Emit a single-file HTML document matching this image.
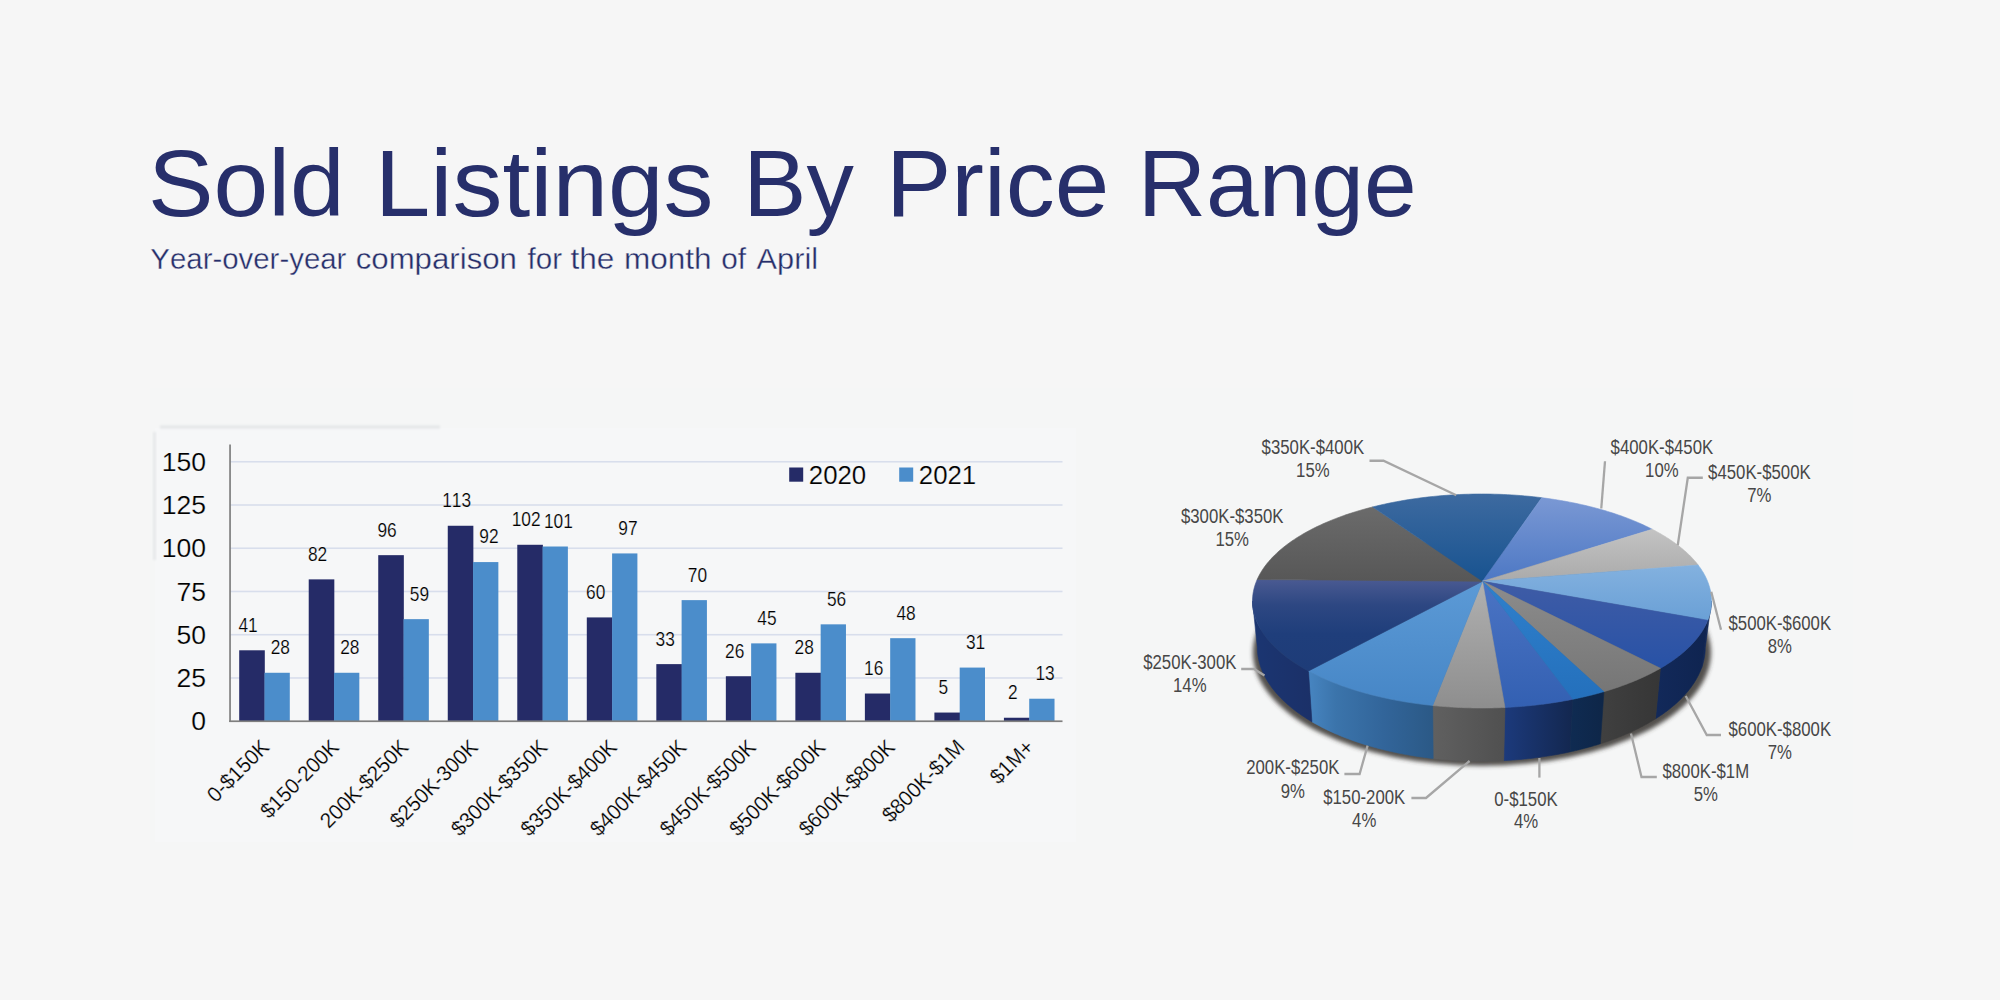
<!DOCTYPE html>
<html lang="en"><head><meta charset="utf-8"><title>Sold Listings By Price Range</title>
<style>
html,body{margin:0;padding:0;background:#f6f6f6;}
body{width:2000px;height:1000px;overflow:hidden;position:relative;font-family:'Liberation Sans', Arial, Helvetica, sans-serif;}
svg{display:block;position:absolute;left:0;top:0;}
text{font-family:'Liberation Sans', Arial, Helvetica, sans-serif;font-kerning:none;}
.thin{stroke:#f5f6f6;stroke-width:0.2px;}
</style></head><body>
<svg width="2000" height="1000" viewBox="0 0 2000 1000">
<defs>
<filter id="blur3" x="-10%" y="-10%" width="120%" height="120%"><feGaussianBlur stdDeviation="2.1"/></filter>
<filter id="blur1" x="-20%" y="-200%" width="140%" height="500%"><feGaussianBlur stdDeviation="1.2"/></filter>
<linearGradient id="s0" gradientUnits="userSpaceOnUse" x1="1503.7" y1="0" x2="1572.9" y2="0"><stop offset="0" stop-color="#1c3a7c"/><stop offset="1" stop-color="#13274f"/></linearGradient>
<linearGradient id="s1" gradientUnits="userSpaceOnUse" x1="1432.7" y1="0" x2="1504.9" y2="0"><stop offset="0" stop-color="#606060"/><stop offset="1" stop-color="#505050"/></linearGradient>
<linearGradient id="s2" gradientUnits="userSpaceOnUse" x1="1308.5" y1="0" x2="1433.2" y2="0"><stop offset="0" stop-color="#4785c1"/><stop offset="0.22" stop-color="#3b74ab"/><stop offset="0.6" stop-color="#32659a"/><stop offset="1" stop-color="#2b5986"/></linearGradient>
<linearGradient id="s3" gradientUnits="userSpaceOnUse" x1="1252.5" y1="0" x2="1311.9" y2="0"><stop offset="0" stop-color="#1b3672"/><stop offset="1" stop-color="#1b3068"/></linearGradient>
<linearGradient id="s8" gradientUnits="userSpaceOnUse" x1="1701.6" y1="0" x2="1711.5" y2="0"><stop offset="0" stop-color="#12295a"/><stop offset="1" stop-color="#11285a"/></linearGradient>
<linearGradient id="s9" gradientUnits="userSpaceOnUse" x1="1655.4" y1="0" x2="1707.7" y2="0"><stop offset="0" stop-color="#12295a"/><stop offset="1" stop-color="#0f2450"/></linearGradient>
<linearGradient id="s10" gradientUnits="userSpaceOnUse" x1="1600.3" y1="0" x2="1660.4" y2="0"><stop offset="0" stop-color="#404040"/><stop offset="1" stop-color="#363636"/></linearGradient>
<linearGradient id="s11" gradientUnits="userSpaceOnUse" x1="1570.1" y1="0" x2="1603.9" y2="0"><stop offset="0" stop-color="#0f2b52"/><stop offset="1" stop-color="#0e2648"/></linearGradient>
<linearGradient id="t0" gradientUnits="userSpaceOnUse" x1="0" y1="581.3" x2="0" y2="707.5"><stop offset="0" stop-color="#4b74c4"/><stop offset="1" stop-color="#3360b2"/></linearGradient>
<linearGradient id="t1" gradientUnits="userSpaceOnUse" x1="0" y1="581.3" x2="0" y2="708.0"><stop offset="0" stop-color="#b0b0b0"/><stop offset="1" stop-color="#8e8e8e"/></linearGradient>
<linearGradient id="t2" gradientUnits="userSpaceOnUse" x1="0" y1="581.3" x2="0" y2="705.5"><stop offset="0" stop-color="#5c9ad6"/><stop offset="1" stop-color="#4686c6"/></linearGradient>
<linearGradient id="t3" gradientUnits="userSpaceOnUse" x1="0" y1="579.5" x2="0" y2="671.0"><stop offset="0" stop-color="#4a5a92"/><stop offset="0.28" stop-color="#2d4782"/><stop offset="0.6" stop-color="#1f3e7b"/><stop offset="1" stop-color="#1e3c78"/></linearGradient>
<linearGradient id="t4" gradientUnits="userSpaceOnUse" x1="0" y1="506.9" x2="0" y2="581.3"><stop offset="0" stop-color="#6b6b6b"/><stop offset="1" stop-color="#575757"/></linearGradient>
<linearGradient id="t5" gradientUnits="userSpaceOnUse" x1="0" y1="494.0" x2="0" y2="581.3"><stop offset="0" stop-color="#3d6aa0"/><stop offset="1" stop-color="#185390"/></linearGradient>
<linearGradient id="t6" gradientUnits="userSpaceOnUse" x1="0" y1="497.7" x2="0" y2="581.3"><stop offset="0" stop-color="#7a98d4"/><stop offset="1" stop-color="#4d78c4"/></linearGradient>
<linearGradient id="t7" gradientUnits="userSpaceOnUse" x1="0" y1="529.3" x2="0" y2="581.3"><stop offset="0" stop-color="#c3c3c3"/><stop offset="1" stop-color="#aaaaaa"/></linearGradient>
<linearGradient id="t8" gradientUnits="userSpaceOnUse" x1="0" y1="565.1" x2="0" y2="620.3"><stop offset="0" stop-color="#83b1df"/><stop offset="1" stop-color="#6aa0d6"/></linearGradient>
<linearGradient id="t9" gradientUnits="userSpaceOnUse" x1="0" y1="581.3" x2="0" y2="668.3"><stop offset="0" stop-color="#3f5ca6"/><stop offset="1" stop-color="#2852a6"/></linearGradient>
<linearGradient id="t10" gradientUnits="userSpaceOnUse" x1="0" y1="581.3" x2="0" y2="691.6"><stop offset="0" stop-color="#8c8c8c"/><stop offset="1" stop-color="#767676"/></linearGradient>
<linearGradient id="t11" gradientUnits="userSpaceOnUse" x1="0" y1="581.3" x2="0" y2="699.2"><stop offset="0" stop-color="#2f80cc"/><stop offset="1" stop-color="#2470bc"/></linearGradient>
</defs>
<text transform="translate(147.93,216) scale(1.0318,1)" font-size="95.3" fill="#272f6b">Sold</text>
<text transform="translate(374.80,216) scale(1.0485,1)" font-size="95.3" fill="#272f6b">Listings</text>
<text transform="translate(743.23,216) scale(0.9941,1)" font-size="95.3" fill="#272f6b">By</text>
<text transform="translate(885.96,216) scale(1.0289,1)" font-size="95.3" fill="#272f6b">Price</text>
<text transform="translate(1137.63,216) scale(0.9934,1)" font-size="95.3" fill="#272f6b">Range</text>
<text transform="translate(150.35,269.4) scale(0.9970,1)" font-size="29.5" fill="#262e6a" stroke="#f6f6f6" stroke-width="0.35">Year-over-year</text>
<text transform="translate(355.67,269.4) scale(1.0582,1)" font-size="29.5" fill="#262e6a" stroke="#f6f6f6" stroke-width="0.35">comparison</text>
<text transform="translate(527.58,269.4) scale(1.0024,1)" font-size="29.5" fill="#262e6a" stroke="#f6f6f6" stroke-width="0.35">for</text>
<text transform="translate(570.52,269.4) scale(1.0700,1)" font-size="29.5" fill="#262e6a" stroke="#f6f6f6" stroke-width="0.35">the</text>
<text transform="translate(623.90,269.4) scale(1.0702,1)" font-size="29.5" fill="#262e6a" stroke="#f6f6f6" stroke-width="0.35">month</text>
<text transform="translate(721.15,269.4) scale(1.0082,1)" font-size="29.5" fill="#262e6a" stroke="#f6f6f6" stroke-width="0.35">of</text>
<text transform="translate(756.54,269.4) scale(1.0424,1)" font-size="29.5" fill="#262e6a" stroke="#f6f6f6" stroke-width="0.35">April</text>
<rect x="150" y="388" width="1703" height="462" fill="#f5f6f6"/>
<rect x="155" y="428" width="921" height="414" fill="#f6f7f8"/>
<rect x="160" y="425.5" width="280" height="3" fill="#e4e6e8" filter="url(#blur1)"/>
<rect x="153" y="432" width="3" height="128" fill="#e6e8ea" filter="url(#blur1)"/>
<rect x="230.0" y="677.16" width="832.5" height="1.6" fill="#d8deec"/>
<rect x="230.0" y="633.92" width="832.5" height="1.6" fill="#d8deec"/>
<rect x="230.0" y="590.68" width="832.5" height="1.6" fill="#d8deec"/>
<rect x="230.0" y="547.44" width="832.5" height="1.6" fill="#d8deec"/>
<rect x="230.0" y="504.20" width="832.5" height="1.6" fill="#d8deec"/>
<rect x="230.0" y="460.96" width="832.5" height="1.6" fill="#d8deec"/>
<rect x="239.20" y="650.29" width="25.60" height="70.91" fill="#252b67"/>
<rect x="264.50" y="672.77" width="25.30" height="48.43" fill="#4b8dcb"/>
<text transform="translate(248.05,631.69) scale(0.875,1)" text-anchor="middle" font-size="19.8" fill="#000" class="thin">41</text>
<text transform="translate(280.35,654.17) scale(0.875,1)" text-anchor="middle" font-size="19.8" fill="#000" class="thin">28</text>
<text transform="translate(270.56,748.50) rotate(-45) scale(0.96,1)" text-anchor="end" font-size="21.4" fill="#000" class="thin">0-$150K</text>
<rect x="308.72" y="579.37" width="25.60" height="141.83" fill="#252b67"/>
<rect x="334.02" y="672.77" width="25.30" height="48.43" fill="#4b8dcb"/>
<text transform="translate(317.57,560.77) scale(0.875,1)" text-anchor="middle" font-size="19.8" fill="#000" class="thin">82</text>
<text transform="translate(349.87,654.17) scale(0.875,1)" text-anchor="middle" font-size="19.8" fill="#000" class="thin">28</text>
<text transform="translate(340.08,748.50) rotate(-45) scale(0.96,1)" text-anchor="end" font-size="21.4" fill="#000" class="thin">$150-200K</text>
<rect x="378.24" y="555.16" width="25.60" height="166.04" fill="#252b67"/>
<rect x="403.54" y="619.15" width="25.30" height="102.05" fill="#4b8dcb"/>
<text transform="translate(387.09,536.56) scale(0.875,1)" text-anchor="middle" font-size="19.8" fill="#000" class="thin">96</text>
<text transform="translate(419.39,600.55) scale(0.875,1)" text-anchor="middle" font-size="19.8" fill="#000" class="thin">59</text>
<text transform="translate(409.60,748.50) rotate(-45) scale(0.96,1)" text-anchor="end" font-size="21.4" fill="#000" class="thin">200K-$250K</text>
<rect x="447.76" y="525.76" width="25.60" height="195.44" fill="#252b67"/>
<rect x="473.06" y="562.08" width="25.30" height="159.12" fill="#4b8dcb"/>
<text transform="translate(456.61,507.16) scale(0.875,1)" text-anchor="middle" font-size="19.8" fill="#000" class="thin">113</text>
<text transform="translate(488.91,543.48) scale(0.875,1)" text-anchor="middle" font-size="19.8" fill="#000" class="thin">92</text>
<text transform="translate(479.12,748.50) rotate(-45) scale(0.96,1)" text-anchor="end" font-size="21.4" fill="#000" class="thin">$250K-300K</text>
<rect x="517.28" y="544.78" width="25.60" height="176.42" fill="#252b67"/>
<rect x="542.58" y="546.51" width="25.30" height="174.69" fill="#4b8dcb"/>
<text transform="translate(526.13,526.18) scale(0.875,1)" text-anchor="middle" font-size="19.8" fill="#000" class="thin">102</text>
<text transform="translate(558.43,527.91) scale(0.875,1)" text-anchor="middle" font-size="19.8" fill="#000" class="thin">101</text>
<text transform="translate(548.64,748.50) rotate(-45) scale(0.96,1)" text-anchor="end" font-size="21.4" fill="#000" class="thin">$300K-$350K</text>
<rect x="586.80" y="617.42" width="25.60" height="103.78" fill="#252b67"/>
<rect x="612.10" y="553.43" width="25.30" height="167.77" fill="#4b8dcb"/>
<text transform="translate(595.65,598.82) scale(0.875,1)" text-anchor="middle" font-size="19.8" fill="#000" class="thin">60</text>
<text transform="translate(627.95,534.83) scale(0.875,1)" text-anchor="middle" font-size="19.8" fill="#000" class="thin">97</text>
<text transform="translate(618.16,748.50) rotate(-45) scale(0.96,1)" text-anchor="end" font-size="21.4" fill="#000" class="thin">$350K-$400K</text>
<rect x="656.32" y="664.12" width="25.60" height="57.08" fill="#252b67"/>
<rect x="681.62" y="600.13" width="25.30" height="121.07" fill="#4b8dcb"/>
<text transform="translate(665.17,645.52) scale(0.875,1)" text-anchor="middle" font-size="19.8" fill="#000" class="thin">33</text>
<text transform="translate(697.47,581.53) scale(0.875,1)" text-anchor="middle" font-size="19.8" fill="#000" class="thin">70</text>
<text transform="translate(687.68,748.50) rotate(-45) scale(0.96,1)" text-anchor="end" font-size="21.4" fill="#000" class="thin">$400K-$450K</text>
<rect x="725.84" y="676.23" width="25.60" height="44.97" fill="#252b67"/>
<rect x="751.14" y="643.37" width="25.30" height="77.83" fill="#4b8dcb"/>
<text transform="translate(734.69,657.63) scale(0.875,1)" text-anchor="middle" font-size="19.8" fill="#000" class="thin">26</text>
<text transform="translate(766.99,624.77) scale(0.875,1)" text-anchor="middle" font-size="19.8" fill="#000" class="thin">45</text>
<text transform="translate(757.20,748.50) rotate(-45) scale(0.96,1)" text-anchor="end" font-size="21.4" fill="#000" class="thin">$450K-$500K</text>
<rect x="795.36" y="672.77" width="25.60" height="48.43" fill="#252b67"/>
<rect x="820.66" y="624.34" width="25.30" height="96.86" fill="#4b8dcb"/>
<text transform="translate(804.21,654.17) scale(0.875,1)" text-anchor="middle" font-size="19.8" fill="#000" class="thin">28</text>
<text transform="translate(836.51,605.74) scale(0.875,1)" text-anchor="middle" font-size="19.8" fill="#000" class="thin">56</text>
<text transform="translate(826.72,748.50) rotate(-45) scale(0.96,1)" text-anchor="end" font-size="21.4" fill="#000" class="thin">$500K-$600K</text>
<rect x="864.88" y="693.53" width="25.60" height="27.67" fill="#252b67"/>
<rect x="890.18" y="638.18" width="25.30" height="83.02" fill="#4b8dcb"/>
<text transform="translate(873.73,674.93) scale(0.875,1)" text-anchor="middle" font-size="19.8" fill="#000" class="thin">16</text>
<text transform="translate(906.03,619.58) scale(0.875,1)" text-anchor="middle" font-size="19.8" fill="#000" class="thin">48</text>
<text transform="translate(896.24,748.50) rotate(-45) scale(0.96,1)" text-anchor="end" font-size="21.4" fill="#000" class="thin">$600K-$800K</text>
<rect x="934.40" y="712.55" width="25.60" height="8.65" fill="#252b67"/>
<rect x="959.70" y="667.58" width="25.30" height="53.62" fill="#4b8dcb"/>
<text transform="translate(943.25,693.95) scale(0.875,1)" text-anchor="middle" font-size="19.8" fill="#000" class="thin">5</text>
<text transform="translate(975.55,648.98) scale(0.875,1)" text-anchor="middle" font-size="19.8" fill="#000" class="thin">31</text>
<text transform="translate(965.76,748.50) rotate(-45) scale(0.96,1)" text-anchor="end" font-size="21.4" fill="#000" class="thin">$800K-$1M</text>
<rect x="1003.92" y="717.74" width="25.60" height="3.46" fill="#252b67"/>
<rect x="1029.22" y="698.72" width="25.30" height="22.48" fill="#4b8dcb"/>
<text transform="translate(1012.77,699.14) scale(0.875,1)" text-anchor="middle" font-size="19.8" fill="#000" class="thin">2</text>
<text transform="translate(1045.07,680.12) scale(0.875,1)" text-anchor="middle" font-size="19.8" fill="#000" class="thin">13</text>
<text transform="translate(1035.28,748.50) rotate(-45) scale(0.96,1)" text-anchor="end" font-size="21.4" fill="#000" class="thin">$1M+</text>
<rect x="229.2" y="444.5" width="1.7" height="277.50" fill="#7f7f7f"/>
<rect x="229.2" y="720.40" width="833.30" height="1.7" fill="#7f7f7f"/>
<text transform="translate(206,730.30) scale(1.03,1)" text-anchor="end" font-size="25.8" fill="#000" class="thin">0</text>
<text transform="translate(206,687.06) scale(1.03,1)" text-anchor="end" font-size="25.8" fill="#000" class="thin">25</text>
<text transform="translate(206,643.82) scale(1.03,1)" text-anchor="end" font-size="25.8" fill="#000" class="thin">50</text>
<text transform="translate(206,600.58) scale(1.03,1)" text-anchor="end" font-size="25.8" fill="#000" class="thin">75</text>
<text transform="translate(206,557.34) scale(1.03,1)" text-anchor="end" font-size="25.8" fill="#000" class="thin">100</text>
<text transform="translate(206,514.10) scale(1.03,1)" text-anchor="end" font-size="25.8" fill="#000" class="thin">125</text>
<text transform="translate(206,470.86) scale(1.03,1)" text-anchor="end" font-size="25.8" fill="#000" class="thin">150</text>
<rect x="789.2" y="467.5" width="14" height="14.2" fill="#252b67"/>
<text x="808.8" y="483.7" font-size="25.8" fill="#000" class="thin">2020</text>
<rect x="899.2" y="467.5" width="14" height="14.2" fill="#4b8dcb"/>
<text x="918.8" y="483.7" font-size="25.8" fill="#000" class="thin">2021</text>
<ellipse cx="1482" cy="652.5" rx="229" ry="113.3" fill="#3b3937" fill-opacity="0.88" filter="url(#blur3)"/>
<path d="M1572.94,699.24 L1571.32,699.56 L1569.70,699.88 L1568.06,700.19 L1566.43,700.50 L1564.79,700.80 L1563.14,701.09 L1561.49,701.38 L1559.83,701.66 L1558.17,701.93 L1556.50,702.20 L1554.84,702.47 L1553.16,702.73 L1551.48,702.98 L1549.80,703.22 L1548.11,703.46 L1546.42,703.70 L1544.73,703.93 L1543.03,704.15 L1541.33,704.36 L1539.63,704.57 L1537.92,704.78 L1536.21,704.97 L1534.49,705.16 L1532.77,705.35 L1531.05,705.53 L1529.33,705.70 L1527.60,705.87 L1525.87,706.03 L1524.14,706.18 L1522.41,706.33 L1520.67,706.47 L1518.93,706.61 L1517.19,706.73 L1515.45,706.86 L1513.70,706.97 L1511.95,707.08 L1510.21,707.19 L1508.45,707.29 L1506.70,707.38 L1504.95,707.46 L1503.70,760.63 L1505.41,760.54 L1507.12,760.44 L1508.83,760.34 L1510.54,760.22 L1512.24,760.11 L1513.94,759.98 L1515.65,759.85 L1517.35,759.71 L1519.04,759.57 L1520.74,759.42 L1522.43,759.26 L1524.12,759.10 L1525.81,758.93 L1527.49,758.75 L1529.18,758.57 L1530.86,758.38 L1532.53,758.18 L1534.21,757.97 L1535.88,757.76 L1537.54,757.55 L1539.21,757.32 L1540.87,757.09 L1542.53,756.86 L1544.18,756.62 L1545.83,756.37 L1547.48,756.11 L1549.12,755.85 L1550.76,755.58 L1552.39,755.31 L1554.02,755.03 L1555.64,754.74 L1557.27,754.44 L1558.88,754.14 L1560.49,753.84 L1562.10,753.52 L1563.70,753.21 L1565.30,752.88 L1566.89,752.55 L1568.48,752.21 L1570.07,751.87Z" fill="url(#s0)" stroke="url(#s0)" stroke-width="0.6"/>
<path d="M1504.95,707.46 L1503.14,707.55 L1501.33,707.62 L1499.52,707.69 L1497.71,707.75 L1495.90,707.80 L1494.08,707.85 L1492.27,707.89 L1490.45,707.93 L1488.64,707.96 L1486.82,707.98 L1485.00,707.99 L1483.19,708.00 L1481.37,708.00 L1479.55,707.99 L1477.74,707.98 L1475.92,707.96 L1474.10,707.94 L1472.29,707.90 L1470.47,707.86 L1468.66,707.82 L1466.85,707.77 L1465.03,707.71 L1463.22,707.64 L1461.41,707.57 L1459.60,707.49 L1457.80,707.40 L1455.99,707.31 L1454.19,707.21 L1452.38,707.11 L1450.58,706.99 L1448.79,706.87 L1446.99,706.75 L1445.19,706.62 L1443.40,706.48 L1441.61,706.33 L1439.83,706.18 L1438.04,706.02 L1436.26,705.85 L1434.48,705.68 L1432.70,705.50 L1433.19,758.54 L1434.92,758.73 L1436.66,758.91 L1438.39,759.09 L1440.14,759.26 L1441.88,759.42 L1443.63,759.58 L1445.38,759.72 L1447.13,759.87 L1448.88,760.00 L1450.64,760.13 L1452.39,760.25 L1454.15,760.36 L1455.91,760.47 L1457.68,760.56 L1459.44,760.66 L1461.21,760.74 L1462.97,760.82 L1464.74,760.89 L1466.51,760.95 L1468.28,761.01 L1470.05,761.06 L1471.82,761.10 L1473.59,761.13 L1475.37,761.16 L1477.14,761.18 L1478.91,761.19 L1480.68,761.20 L1482.46,761.20 L1484.23,761.19 L1486.00,761.17 L1487.78,761.15 L1489.55,761.12 L1491.32,761.09 L1493.09,761.04 L1494.86,760.99 L1496.63,760.93 L1498.40,760.87 L1500.17,760.79 L1501.93,760.72 L1503.70,760.63Z" fill="url(#s1)" stroke="url(#s1)" stroke-width="0.6"/>
<path d="M1432.70,705.50 L1429.12,705.12 L1425.55,704.71 L1421.99,704.28 L1418.45,703.82 L1414.92,703.33 L1411.41,702.81 L1407.92,702.27 L1404.45,701.71 L1401.00,701.11 L1397.57,700.50 L1394.16,699.85 L1390.78,699.18 L1387.41,698.49 L1384.08,697.77 L1380.76,697.03 L1377.48,696.26 L1374.22,695.47 L1370.98,694.65 L1367.78,693.81 L1364.60,692.94 L1361.46,692.05 L1358.34,691.14 L1355.26,690.20 L1352.21,689.25 L1349.20,688.27 L1346.21,687.26 L1343.27,686.24 L1340.36,685.19 L1337.48,684.12 L1334.64,683.03 L1331.84,681.92 L1329.08,680.79 L1326.36,679.63 L1323.68,678.46 L1321.03,677.27 L1318.43,676.06 L1315.87,674.82 L1313.36,673.57 L1310.89,672.30 L1308.46,671.02 L1311.92,721.80 L1314.29,723.17 L1316.70,724.52 L1319.16,725.85 L1321.65,727.17 L1324.19,728.46 L1326.77,729.73 L1329.39,730.98 L1332.05,732.21 L1334.74,733.41 L1337.47,734.60 L1340.24,735.76 L1343.05,736.90 L1345.89,738.01 L1348.77,739.11 L1351.68,740.17 L1354.62,741.22 L1357.60,742.24 L1360.61,743.24 L1363.65,744.21 L1366.72,745.16 L1369.82,746.08 L1372.94,746.97 L1376.10,747.85 L1379.28,748.69 L1382.49,749.51 L1385.72,750.30 L1388.98,751.07 L1392.26,751.81 L1395.57,752.52 L1398.90,753.21 L1402.24,753.86 L1405.61,754.50 L1409.00,755.10 L1412.41,755.67 L1415.83,756.22 L1419.27,756.74 L1422.73,757.23 L1426.20,757.70 L1429.69,758.13 L1433.19,758.54Z" fill="url(#s2)" stroke="url(#s2)" stroke-width="0.6"/>
<path d="M1308.46,671.02 L1305.81,669.56 L1303.21,668.09 L1300.67,666.59 L1298.19,665.07 L1295.77,663.53 L1293.41,661.98 L1291.11,660.40 L1288.87,658.80 L1286.69,657.19 L1284.57,655.55 L1282.51,653.90 L1280.52,652.24 L1278.59,650.55 L1276.73,648.85 L1274.93,647.14 L1273.20,645.41 L1271.54,643.67 L1269.94,641.91 L1268.41,640.14 L1266.94,638.36 L1265.55,636.57 L1264.22,634.76 L1262.97,632.94 L1261.78,631.12 L1260.66,629.28 L1259.62,627.44 L1258.64,625.58 L1257.74,623.72 L1256.90,621.86 L1256.14,619.98 L1255.45,618.10 L1254.83,616.21 L1254.29,614.32 L1253.81,612.43 L1253.41,610.53 L1253.08,608.63 L1252.83,606.72 L1252.65,604.82 L1252.54,602.91 L1252.50,601.00 L1257.30,647.20 L1257.34,649.23 L1257.44,651.27 L1257.62,653.30 L1257.87,655.33 L1258.19,657.35 L1258.58,659.37 L1259.04,661.39 L1259.58,663.41 L1260.18,665.42 L1260.85,667.42 L1261.60,669.42 L1262.41,671.41 L1263.29,673.39 L1264.25,675.37 L1265.27,677.33 L1266.36,679.29 L1267.52,681.23 L1268.74,683.17 L1270.04,685.09 L1271.40,687.00 L1272.83,688.90 L1274.32,690.79 L1275.88,692.66 L1277.51,694.52 L1279.20,696.36 L1280.95,698.19 L1282.77,700.00 L1284.65,701.79 L1286.59,703.56 L1288.60,705.32 L1290.67,707.06 L1292.80,708.78 L1294.98,710.48 L1297.23,712.16 L1299.54,713.82 L1301.90,715.46 L1304.32,717.08 L1306.80,718.68 L1309.33,720.25 L1311.92,721.80Z" fill="url(#s3)" stroke="url(#s3)" stroke-width="0.6"/>
<path d="M1711.50,601.00 L1711.50,601.48 L1711.49,601.97 L1711.48,602.45 L1711.46,602.94 L1711.44,603.42 L1711.42,603.91 L1711.38,604.39 L1711.35,604.87 L1711.31,605.36 L1711.26,605.84 L1711.22,606.33 L1711.16,606.81 L1711.10,607.29 L1711.04,607.78 L1710.97,608.26 L1710.90,608.74 L1710.82,609.23 L1710.74,609.71 L1710.65,610.19 L1710.56,610.68 L1710.46,611.16 L1710.36,611.64 L1710.26,612.12 L1710.15,612.60 L1710.03,613.08 L1709.91,613.57 L1709.79,614.05 L1709.66,614.53 L1709.52,615.01 L1709.39,615.49 L1709.24,615.97 L1709.10,616.45 L1708.94,616.93 L1708.79,617.41 L1708.62,617.88 L1708.46,618.36 L1708.29,618.84 L1708.11,619.32 L1707.93,619.79 L1707.75,620.27 L1701.64,667.73 L1701.82,667.22 L1701.99,666.72 L1702.16,666.21 L1702.33,665.70 L1702.49,665.19 L1702.65,664.68 L1702.80,664.17 L1702.95,663.66 L1703.10,663.15 L1703.24,662.64 L1703.37,662.12 L1703.50,661.61 L1703.63,661.10 L1703.75,660.59 L1703.87,660.08 L1703.98,659.56 L1704.09,659.05 L1704.19,658.54 L1704.29,658.02 L1704.38,657.51 L1704.47,656.99 L1704.56,656.48 L1704.64,655.97 L1704.71,655.45 L1704.78,654.94 L1704.85,654.42 L1704.91,653.91 L1704.97,653.39 L1705.02,652.87 L1705.07,652.36 L1705.11,651.84 L1705.15,651.33 L1705.19,650.81 L1705.22,650.30 L1705.24,649.78 L1705.26,649.26 L1705.28,648.75 L1705.29,648.23 L1705.30,647.72 L1705.30,647.20Z" fill="url(#s8)" stroke="url(#s8)" stroke-width="0.6"/>
<path d="M1707.75,620.27 L1707.21,621.58 L1706.65,622.89 L1706.04,624.20 L1705.40,625.50 L1704.73,626.80 L1704.02,628.09 L1703.28,629.38 L1702.50,630.67 L1701.69,631.95 L1700.85,633.22 L1699.97,634.49 L1699.05,635.76 L1698.10,637.02 L1697.12,638.28 L1696.11,639.52 L1695.06,640.77 L1693.98,642.00 L1692.87,643.23 L1691.72,644.46 L1690.54,645.67 L1689.33,646.88 L1688.08,648.09 L1686.81,649.28 L1685.50,650.47 L1684.16,651.65 L1682.79,652.82 L1681.38,653.99 L1679.95,655.14 L1678.48,656.29 L1676.99,657.43 L1675.46,658.56 L1673.91,659.68 L1672.32,660.79 L1670.71,661.90 L1669.06,662.99 L1667.39,664.07 L1665.68,665.15 L1663.95,666.21 L1662.19,667.27 L1660.41,668.31 L1655.43,718.91 L1657.17,717.80 L1658.89,716.68 L1660.58,715.54 L1662.24,714.40 L1663.88,713.25 L1665.48,712.08 L1667.06,710.91 L1668.61,709.72 L1670.13,708.53 L1671.62,707.32 L1673.08,706.11 L1674.51,704.89 L1675.90,703.65 L1677.27,702.41 L1678.61,701.16 L1679.92,699.91 L1681.20,698.64 L1682.44,697.37 L1683.66,696.09 L1684.84,694.80 L1685.99,693.50 L1687.11,692.20 L1688.20,690.89 L1689.26,689.57 L1690.28,688.24 L1691.27,686.91 L1692.23,685.58 L1693.15,684.23 L1694.04,682.89 L1694.90,681.53 L1695.73,680.17 L1696.52,678.81 L1697.28,677.44 L1698.00,676.06 L1698.69,674.69 L1699.35,673.30 L1699.97,671.92 L1700.56,670.52 L1701.12,669.13 L1701.64,667.73Z" fill="url(#s9)" stroke="url(#s9)" stroke-width="0.6"/>
<path d="M1660.41,668.31 L1659.21,668.99 L1658.00,669.67 L1656.77,670.35 L1655.54,671.02 L1654.29,671.68 L1653.04,672.35 L1651.77,673.00 L1650.49,673.65 L1649.19,674.30 L1647.89,674.94 L1646.57,675.58 L1645.25,676.21 L1643.91,676.83 L1642.56,677.45 L1641.20,678.07 L1639.83,678.68 L1638.45,679.28 L1637.06,679.88 L1635.66,680.48 L1634.24,681.07 L1632.82,681.65 L1631.39,682.23 L1629.94,682.80 L1628.49,683.37 L1627.03,683.93 L1625.55,684.48 L1624.07,685.03 L1622.57,685.58 L1621.07,686.12 L1619.56,686.65 L1618.04,687.18 L1616.51,687.70 L1614.97,688.21 L1613.42,688.72 L1611.86,689.22 L1610.29,689.72 L1608.72,690.21 L1607.13,690.70 L1605.54,691.17 L1603.94,691.65 L1600.32,743.78 L1601.88,743.27 L1603.43,742.76 L1604.98,742.25 L1606.52,741.72 L1608.05,741.19 L1609.57,740.66 L1611.08,740.12 L1612.58,739.57 L1614.08,739.01 L1615.56,738.45 L1617.04,737.88 L1618.51,737.31 L1619.96,736.73 L1621.41,736.15 L1622.85,735.55 L1624.28,734.96 L1625.70,734.35 L1627.11,733.74 L1628.51,733.13 L1629.89,732.51 L1631.27,731.88 L1632.64,731.24 L1634.00,730.61 L1635.35,729.96 L1636.69,729.31 L1638.01,728.66 L1639.33,727.99 L1640.64,727.33 L1641.93,726.65 L1643.21,725.98 L1644.49,725.29 L1645.75,724.61 L1647.00,723.91 L1648.24,723.21 L1649.47,722.51 L1650.68,721.80 L1651.89,721.08 L1653.08,720.37 L1654.26,719.64 L1655.43,718.91Z" fill="url(#s10)" stroke="url(#s10)" stroke-width="0.6"/>
<path d="M1603.94,691.65 L1603.20,691.86 L1602.45,692.08 L1601.70,692.29 L1600.96,692.50 L1600.21,692.72 L1599.45,692.93 L1598.70,693.13 L1597.94,693.34 L1597.19,693.55 L1596.43,693.75 L1595.67,693.95 L1594.91,694.16 L1594.14,694.36 L1593.38,694.55 L1592.61,694.75 L1591.84,694.95 L1591.07,695.14 L1590.30,695.34 L1589.53,695.53 L1588.75,695.72 L1587.98,695.91 L1587.20,696.10 L1586.42,696.28 L1585.64,696.47 L1584.86,696.65 L1584.07,696.83 L1583.29,697.02 L1582.50,697.20 L1581.71,697.37 L1580.92,697.55 L1580.13,697.73 L1579.34,697.90 L1578.54,698.07 L1577.75,698.24 L1576.95,698.41 L1576.15,698.58 L1575.35,698.75 L1574.55,698.91 L1573.75,699.08 L1572.94,699.24 L1570.07,751.87 L1570.85,751.69 L1571.63,751.52 L1572.41,751.34 L1573.20,751.17 L1573.97,750.99 L1574.75,750.80 L1575.53,750.62 L1576.30,750.44 L1577.08,750.25 L1577.85,750.07 L1578.62,749.88 L1579.39,749.69 L1580.16,749.50 L1580.93,749.30 L1581.69,749.11 L1582.45,748.91 L1583.22,748.72 L1583.98,748.52 L1584.74,748.32 L1585.49,748.12 L1586.25,747.91 L1587.01,747.71 L1587.76,747.50 L1588.51,747.29 L1589.26,747.09 L1590.01,746.88 L1590.76,746.66 L1591.50,746.45 L1592.24,746.23 L1592.99,746.02 L1593.73,745.80 L1594.47,745.58 L1595.20,745.36 L1595.94,745.14 L1596.67,744.92 L1597.40,744.69 L1598.14,744.46 L1598.86,744.24 L1599.59,744.01 L1600.32,743.78Z" fill="url(#s11)" stroke="url(#s11)" stroke-width="0.6"/>
<path d="M1482.50,581.30 L1572.94,699.24 L1571.32,699.56 L1569.70,699.88 L1568.06,700.19 L1566.43,700.50 L1564.79,700.80 L1563.14,701.09 L1561.49,701.38 L1559.83,701.66 L1558.17,701.93 L1556.50,702.20 L1554.84,702.47 L1553.16,702.73 L1551.48,702.98 L1549.80,703.22 L1548.11,703.46 L1546.42,703.70 L1544.73,703.93 L1543.03,704.15 L1541.33,704.36 L1539.63,704.57 L1537.92,704.78 L1536.21,704.97 L1534.49,705.16 L1532.77,705.35 L1531.05,705.53 L1529.33,705.70 L1527.60,705.87 L1525.87,706.03 L1524.14,706.18 L1522.41,706.33 L1520.67,706.47 L1518.93,706.61 L1517.19,706.73 L1515.45,706.86 L1513.70,706.97 L1511.95,707.08 L1510.21,707.19 L1508.45,707.29 L1506.70,707.38 L1504.95,707.46Z" fill="url(#t0)" stroke="url(#t0)" stroke-width="0.6" stroke-linejoin="round"/>
<path d="M1482.50,581.30 L1504.95,707.46 L1503.14,707.55 L1501.33,707.62 L1499.52,707.69 L1497.71,707.75 L1495.90,707.80 L1494.08,707.85 L1492.27,707.89 L1490.45,707.93 L1488.64,707.96 L1486.82,707.98 L1485.00,707.99 L1483.19,708.00 L1481.37,708.00 L1479.55,707.99 L1477.74,707.98 L1475.92,707.96 L1474.10,707.94 L1472.29,707.90 L1470.47,707.86 L1468.66,707.82 L1466.85,707.77 L1465.03,707.71 L1463.22,707.64 L1461.41,707.57 L1459.60,707.49 L1457.80,707.40 L1455.99,707.31 L1454.19,707.21 L1452.38,707.11 L1450.58,706.99 L1448.79,706.87 L1446.99,706.75 L1445.19,706.62 L1443.40,706.48 L1441.61,706.33 L1439.83,706.18 L1438.04,706.02 L1436.26,705.85 L1434.48,705.68 L1432.70,705.50Z" fill="url(#t1)" stroke="url(#t1)" stroke-width="0.6" stroke-linejoin="round"/>
<path d="M1482.50,581.30 L1432.70,705.50 L1429.12,705.12 L1425.55,704.71 L1421.99,704.28 L1418.45,703.82 L1414.92,703.33 L1411.41,702.81 L1407.92,702.27 L1404.45,701.71 L1401.00,701.11 L1397.57,700.50 L1394.16,699.85 L1390.78,699.18 L1387.41,698.49 L1384.08,697.77 L1380.76,697.03 L1377.48,696.26 L1374.22,695.47 L1370.98,694.65 L1367.78,693.81 L1364.60,692.94 L1361.46,692.05 L1358.34,691.14 L1355.26,690.20 L1352.21,689.25 L1349.20,688.27 L1346.21,687.26 L1343.27,686.24 L1340.36,685.19 L1337.48,684.12 L1334.64,683.03 L1331.84,681.92 L1329.08,680.79 L1326.36,679.63 L1323.68,678.46 L1321.03,677.27 L1318.43,676.06 L1315.87,674.82 L1313.36,673.57 L1310.89,672.30 L1308.46,671.02Z" fill="url(#t2)" stroke="url(#t2)" stroke-width="0.6" stroke-linejoin="round"/>
<path d="M1482.50,581.30 L1308.46,671.02 L1305.07,669.15 L1301.77,667.24 L1298.56,665.30 L1295.45,663.33 L1292.44,661.32 L1289.53,659.28 L1286.72,657.21 L1284.01,655.11 L1281.41,652.99 L1278.91,650.83 L1276.52,648.65 L1274.23,646.45 L1272.06,644.22 L1269.99,641.97 L1268.03,639.70 L1266.19,637.40 L1264.46,635.09 L1262.84,632.76 L1261.34,630.41 L1259.96,628.05 L1258.69,625.68 L1257.53,623.29 L1256.50,620.89 L1255.58,618.47 L1254.78,616.05 L1254.10,613.63 L1253.54,611.19 L1253.10,608.75 L1252.78,606.31 L1252.58,603.86 L1252.50,601.41 L1252.54,598.96 L1252.70,596.51 L1252.98,594.07 L1253.38,591.63 L1253.90,589.19 L1254.54,586.76 L1255.30,584.34 L1256.18,581.92 L1257.17,579.52Z" fill="url(#t3)" stroke="url(#t3)" stroke-width="0.6" stroke-linejoin="round"/>
<path d="M1482.50,581.30 L1257.17,579.52 L1258.23,577.24 L1259.40,574.97 L1260.67,572.71 L1262.04,570.47 L1263.52,568.24 L1265.11,566.03 L1266.79,563.83 L1268.58,561.65 L1270.47,559.49 L1272.47,557.35 L1274.56,555.23 L1276.75,553.13 L1279.03,551.06 L1281.42,549.01 L1283.90,546.98 L1286.47,544.98 L1289.14,543.00 L1291.90,541.06 L1294.74,539.14 L1297.68,537.25 L1300.71,535.39 L1303.82,533.56 L1307.01,531.77 L1310.29,530.01 L1313.65,528.28 L1317.10,526.58 L1320.61,524.92 L1324.21,523.30 L1327.88,521.72 L1331.63,520.17 L1335.44,518.66 L1339.33,517.19 L1343.28,515.76 L1347.30,514.37 L1351.38,513.02 L1355.53,511.71 L1359.74,510.45 L1364.00,509.23 L1368.32,508.05 L1372.69,506.92Z" fill="url(#t4)" stroke="url(#t4)" stroke-width="0.6" stroke-linejoin="round"/>
<path d="M1482.50,581.30 L1372.69,506.92 L1376.55,505.96 L1380.44,505.05 L1384.37,504.17 L1388.33,503.32 L1392.33,502.51 L1396.36,501.73 L1400.42,500.99 L1404.51,500.28 L1408.62,499.62 L1412.77,498.98 L1416.94,498.39 L1421.13,497.83 L1425.35,497.31 L1429.58,496.83 L1433.83,496.38 L1438.11,495.98 L1442.39,495.61 L1446.70,495.27 L1451.01,494.98 L1455.34,494.72 L1459.67,494.51 L1464.01,494.33 L1468.36,494.19 L1472.72,494.09 L1477.08,494.02 L1481.44,494.00 L1485.80,494.01 L1490.16,494.07 L1494.51,494.16 L1498.86,494.29 L1503.21,494.46 L1507.55,494.66 L1511.87,494.91 L1516.19,495.19 L1520.50,495.52 L1524.79,495.88 L1529.06,496.27 L1533.32,496.71 L1537.56,497.18 L1541.78,497.69Z" fill="url(#t5)" stroke="url(#t5)" stroke-width="0.6" stroke-linejoin="round"/>
<path d="M1482.50,581.30 L1541.78,497.69 L1544.95,498.10 L1548.10,498.53 L1551.24,498.99 L1554.36,499.46 L1557.47,499.95 L1560.57,500.47 L1563.64,501.00 L1566.71,501.55 L1569.75,502.13 L1572.78,502.73 L1575.78,503.34 L1578.77,503.98 L1581.74,504.63 L1584.69,505.31 L1587.61,506.00 L1590.52,506.72 L1593.40,507.45 L1596.26,508.20 L1599.10,508.98 L1601.91,509.77 L1604.70,510.58 L1607.46,511.40 L1610.20,512.25 L1612.91,513.12 L1615.60,514.00 L1618.25,514.90 L1620.88,515.82 L1623.48,516.75 L1626.05,517.70 L1628.60,518.67 L1631.11,519.66 L1633.59,520.66 L1636.04,521.68 L1638.46,522.72 L1640.85,523.77 L1643.20,524.84 L1645.52,525.92 L1647.81,527.02 L1650.06,528.14 L1652.28,529.26Z" fill="url(#t6)" stroke="url(#t6)" stroke-width="0.6" stroke-linejoin="round"/>
<path d="M1482.50,581.30 L1652.28,529.26 L1653.78,530.05 L1655.27,530.84 L1656.74,531.63 L1658.19,532.43 L1659.62,533.24 L1661.04,534.06 L1662.43,534.88 L1663.82,535.71 L1665.18,536.54 L1666.53,537.38 L1667.86,538.23 L1669.17,539.08 L1670.46,539.94 L1671.74,540.80 L1672.99,541.67 L1674.23,542.55 L1675.45,543.43 L1676.65,544.32 L1677.84,545.21 L1679.00,546.11 L1680.14,547.01 L1681.27,547.92 L1682.38,548.83 L1683.46,549.75 L1684.53,550.68 L1685.58,551.60 L1686.61,552.54 L1687.62,553.47 L1688.61,554.42 L1689.58,555.36 L1690.53,556.31 L1691.46,557.27 L1692.37,558.23 L1693.26,559.19 L1694.13,560.16 L1694.97,561.13 L1695.80,562.11 L1696.61,563.09 L1697.40,564.07 L1698.16,565.06Z" fill="url(#t7)" stroke="url(#t7)" stroke-width="0.6" stroke-linejoin="round"/>
<path d="M1482.50,581.30 L1698.16,565.06 L1699.15,566.38 L1700.11,567.71 L1701.02,569.04 L1701.90,570.38 L1702.74,571.73 L1703.55,573.08 L1704.31,574.43 L1705.04,575.79 L1705.73,577.15 L1706.38,578.52 L1706.99,579.89 L1707.56,581.27 L1708.10,582.65 L1708.59,584.03 L1709.05,585.41 L1709.47,586.80 L1709.85,588.19 L1710.19,589.58 L1710.49,590.97 L1710.75,592.37 L1710.97,593.77 L1711.16,595.16 L1711.30,596.56 L1711.41,597.96 L1711.47,599.36 L1711.50,600.77 L1711.49,602.17 L1711.43,603.57 L1711.34,604.97 L1711.21,606.37 L1711.04,607.76 L1710.83,609.16 L1710.58,610.56 L1710.29,611.95 L1709.97,613.35 L1709.60,614.74 L1709.20,616.12 L1708.75,617.51 L1708.27,618.89 L1707.75,620.27Z" fill="url(#t8)" stroke="url(#t8)" stroke-width="0.6" stroke-linejoin="round"/>
<path d="M1482.50,581.30 L1707.75,620.27 L1707.21,621.58 L1706.65,622.89 L1706.04,624.20 L1705.40,625.50 L1704.73,626.80 L1704.02,628.09 L1703.28,629.38 L1702.50,630.67 L1701.69,631.95 L1700.85,633.22 L1699.97,634.49 L1699.05,635.76 L1698.10,637.02 L1697.12,638.28 L1696.11,639.52 L1695.06,640.77 L1693.98,642.00 L1692.87,643.23 L1691.72,644.46 L1690.54,645.67 L1689.33,646.88 L1688.08,648.09 L1686.81,649.28 L1685.50,650.47 L1684.16,651.65 L1682.79,652.82 L1681.38,653.99 L1679.95,655.14 L1678.48,656.29 L1676.99,657.43 L1675.46,658.56 L1673.91,659.68 L1672.32,660.79 L1670.71,661.90 L1669.06,662.99 L1667.39,664.07 L1665.68,665.15 L1663.95,666.21 L1662.19,667.27 L1660.41,668.31Z" fill="url(#t9)" stroke="url(#t9)" stroke-width="0.6" stroke-linejoin="round"/>
<path d="M1482.50,581.30 L1660.41,668.31 L1659.21,668.99 L1658.00,669.67 L1656.77,670.35 L1655.54,671.02 L1654.29,671.68 L1653.04,672.35 L1651.77,673.00 L1650.49,673.65 L1649.19,674.30 L1647.89,674.94 L1646.57,675.58 L1645.25,676.21 L1643.91,676.83 L1642.56,677.45 L1641.20,678.07 L1639.83,678.68 L1638.45,679.28 L1637.06,679.88 L1635.66,680.48 L1634.24,681.07 L1632.82,681.65 L1631.39,682.23 L1629.94,682.80 L1628.49,683.37 L1627.03,683.93 L1625.55,684.48 L1624.07,685.03 L1622.57,685.58 L1621.07,686.12 L1619.56,686.65 L1618.04,687.18 L1616.51,687.70 L1614.97,688.21 L1613.42,688.72 L1611.86,689.22 L1610.29,689.72 L1608.72,690.21 L1607.13,690.70 L1605.54,691.17 L1603.94,691.65Z" fill="url(#t10)" stroke="url(#t10)" stroke-width="0.6" stroke-linejoin="round"/>
<path d="M1482.50,581.30 L1603.94,691.65 L1603.20,691.86 L1602.45,692.08 L1601.70,692.29 L1600.96,692.50 L1600.21,692.72 L1599.45,692.93 L1598.70,693.13 L1597.94,693.34 L1597.19,693.55 L1596.43,693.75 L1595.67,693.95 L1594.91,694.16 L1594.14,694.36 L1593.38,694.55 L1592.61,694.75 L1591.84,694.95 L1591.07,695.14 L1590.30,695.34 L1589.53,695.53 L1588.75,695.72 L1587.98,695.91 L1587.20,696.10 L1586.42,696.28 L1585.64,696.47 L1584.86,696.65 L1584.07,696.83 L1583.29,697.02 L1582.50,697.20 L1581.71,697.37 L1580.92,697.55 L1580.13,697.73 L1579.34,697.90 L1578.54,698.07 L1577.75,698.24 L1576.95,698.41 L1576.15,698.58 L1575.35,698.75 L1574.55,698.91 L1573.75,699.08 L1572.94,699.24Z" fill="url(#t11)" stroke="url(#t11)" stroke-width="0.6" stroke-linejoin="round"/>
<polyline points="1369.5,460.75 1383.5,460.75 1456.25,495.25" fill="none" stroke="#a6a6a6" stroke-width="2.3"/>
<polyline points="1605,461.25 1601.25,508.5" fill="none" stroke="#a6a6a6" stroke-width="2.3"/>
<polyline points="1702.8,477.75 1687.8,477.75 1677.75,545.25" fill="none" stroke="#a6a6a6" stroke-width="2.3"/>
<polyline points="1721,629.7 1711.25,591.75" fill="none" stroke="#a6a6a6" stroke-width="2.3"/>
<polyline points="1685.75,696 1706.75,735 1721,735" fill="none" stroke="#a6a6a6" stroke-width="2.3"/>
<polyline points="1631,733.5 1641.5,777 1656.8,777" fill="none" stroke="#a6a6a6" stroke-width="2.3"/>
<polyline points="1539.4,758 1539.4,777.6" fill="none" stroke="#a6a6a6" stroke-width="2.3"/>
<polyline points="1469.6,761 1426,798 1411.4,798" fill="none" stroke="#a6a6a6" stroke-width="2.3"/>
<polyline points="1367.6,745.6 1359.6,774 1344.4,774" fill="none" stroke="#a6a6a6" stroke-width="2.3"/>
<polyline points="1241.2,669 1254,669 1264.5,675.5" fill="none" stroke="#a6a6a6" stroke-width="2.3"/>
<text transform="translate(1312.9,454) scale(0.865,1)" text-anchor="middle" font-size="19.4" fill="#474747">$350K-$400K</text>
<text transform="translate(1312.9,476.5) scale(0.865,1)" text-anchor="middle" font-size="19.4" fill="#474747">15%</text>
<text transform="translate(1232.2,523.4) scale(0.865,1)" text-anchor="middle" font-size="19.4" fill="#474747">$300K-$350K</text>
<text transform="translate(1232.2,546.25) scale(0.865,1)" text-anchor="middle" font-size="19.4" fill="#474747">15%</text>
<text transform="translate(1661.9,453.75) scale(0.865,1)" text-anchor="middle" font-size="19.4" fill="#474747">$400K-$450K</text>
<text transform="translate(1661.9,476.7) scale(0.865,1)" text-anchor="middle" font-size="19.4" fill="#474747">10%</text>
<text transform="translate(1759.4,478.5) scale(0.865,1)" text-anchor="middle" font-size="19.4" fill="#474747">$450K-$500K</text>
<text transform="translate(1759.4,501.75) scale(0.865,1)" text-anchor="middle" font-size="19.4" fill="#474747">7%</text>
<text transform="translate(1779.8,630) scale(0.865,1)" text-anchor="middle" font-size="19.4" fill="#474747">$500K-$600K</text>
<text transform="translate(1779.8,653.25) scale(0.865,1)" text-anchor="middle" font-size="19.4" fill="#474747">8%</text>
<text transform="translate(1779.8,735.75) scale(0.865,1)" text-anchor="middle" font-size="19.4" fill="#474747">$600K-$800K</text>
<text transform="translate(1779.8,758.7) scale(0.865,1)" text-anchor="middle" font-size="19.4" fill="#474747">7%</text>
<text transform="translate(1705.8,777.75) scale(0.865,1)" text-anchor="middle" font-size="19.4" fill="#474747">$800K-$1M</text>
<text transform="translate(1705.8,801) scale(0.865,1)" text-anchor="middle" font-size="19.4" fill="#474747">5%</text>
<text transform="translate(1526,805.6) scale(0.865,1)" text-anchor="middle" font-size="19.4" fill="#474747">0-$150K</text>
<text transform="translate(1526,828.4) scale(0.865,1)" text-anchor="middle" font-size="19.4" fill="#474747">4%</text>
<text transform="translate(1364.2,804.4) scale(0.865,1)" text-anchor="middle" font-size="19.4" fill="#474747">$150-200K</text>
<text transform="translate(1364.2,827.4) scale(0.865,1)" text-anchor="middle" font-size="19.4" fill="#474747">4%</text>
<text transform="translate(1292.8,774.4) scale(0.865,1)" text-anchor="middle" font-size="19.4" fill="#474747">200K-$250K</text>
<text transform="translate(1292.8,798) scale(0.865,1)" text-anchor="middle" font-size="19.4" fill="#474747">9%</text>
<text transform="translate(1189.8,668.8) scale(0.865,1)" text-anchor="middle" font-size="19.4" fill="#474747">$250K-300K</text>
<text transform="translate(1189.8,691.8) scale(0.865,1)" text-anchor="middle" font-size="19.4" fill="#474747">14%</text>
</svg>
</body></html>
